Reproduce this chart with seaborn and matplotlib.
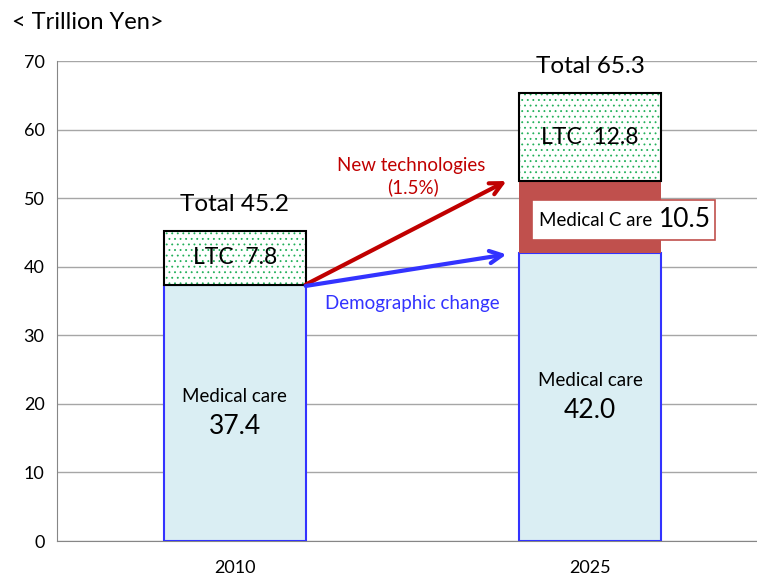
"""
Medical & LTC expenditure chart (2010 vs 2025)
"""

import matplotlib
matplotlib.use("Agg")
import matplotlib.pyplot as plt
import seaborn as sns
import pandas as pd
from matplotlib.patches import Rectangle

sns.set_style("white")
plt.rcParams['font.family'] = ['Lato', 'DejaVu Sans']
plt.rcParams['hatch.linewidth'] = 0.6
plt.rcParams['text.color'] = 'black'
plt.rcParams['xtick.color'] = 'black'
plt.rcParams['ytick.color'] = 'black'

# data
years = ["2010", "2025"]
medical_base = [37.4, 42.0]
new_tech = [0.0, 10.5]
ltc = [7.8, 12.8]
totals = [45.2, 65.3]
y_ticks = [0, 10, 20, 30, 40, 50, 60, 70]

df = pd.DataFrame({"year": years, "medical": medical_base,
                   "tech": new_tech, "ltc": ltc})
df["ltc_bottom"] = df["medical"] + df["tech"]

fig = plt.figure(figsize=(7.57, 5.79), dpi=100)
ax = fig.add_axes([0.0753, 0.0656, 0.9247, 0.829])

W = 0.40
# medical care (base)
sns.barplot(data=df, x="year", y="medical", ax=ax, width=W,
            color="#DAEEF3", edgecolor="#3333FF", linewidth=1.5,
            saturation=1, zorder=3)
# new technologies increase
sns.barplot(data=df, x="year", y="tech", bottom=df["medical"], ax=ax,
            width=W, color="#C0504D", edgecolor="none", linewidth=0,
            saturation=1, zorder=3)
# LTC dotted fill
sns.barplot(data=df, x="year", y="ltc", bottom=df["ltc_bottom"], ax=ax,
            width=W, color="white", edgecolor="#22B05A", hatch="...",
            linewidth=0, saturation=1, zorder=3)
# LTC outline
sns.barplot(data=df, x="year", y="ltc", bottom=df["ltc_bottom"], ax=ax,
            width=W, color="black", fill=False, edgecolor="black",
            linewidth=1.5, saturation=1, zorder=4)

ax.set_xlim(-0.5, 1.47)
ax.set_ylim(0, 70)
ax.set_yticks(y_ticks)
ax.yaxis.grid(True, color="#A6A6A6", linewidth=1, zorder=0)
ax.set_axisbelow(True)
for s in ["top", "right"]:
    ax.spines[s].set_visible(False)
ax.spines["left"].set_color("#868686")
ax.spines["bottom"].set_color("#868686")
ax.set_xlabel("")
ax.set_ylabel("")
ax.tick_params(axis="y", length=0, pad=9, labelsize=13)
ax.tick_params(axis="x", length=0, pad=14, labelsize=13)
ax.set_xticks([0.5], minor=True)
ax.tick_params(axis="x", which="minor", length=5, color="#868686")

# texts
fig.text(0.016, 0.962, "< Trillion Yen>", fontsize=17, va="center", ha="left")
for i, t in enumerate(totals):
    ax.text(i, t + 3.9, f"Total {t}", fontsize=17.5, ha="center", va="center")
    ax.text(i, df["ltc_bottom"][i] + ltc[i] / 2, f"LTC  {ltc[i]}",
            fontsize=16.5, ha="center", va="center", zorder=5)
    ax.text(i, medical_base[i] / 2 + 2.4, "Medical care", fontsize=13.5,
            ha="center", va="center", zorder=5)
    ax.text(i, medical_base[i] / 2 - 2.0, f"{medical_base[i]:.1f}",
            fontsize=19, ha="center", va="center", zorder=5)

# Medical Care increase label box
ax.add_patch(Rectangle((0.838, 43.9), 0.515, 5.8, facecolor="white",
                       edgecolor="#C0504D", linewidth=1.2, zorder=6))
ax.text(1.017, 46.7, "Medical C are", fontsize=13.5, ha="center",
        va="center", zorder=7)
ax.text(1.266, 46.9, f"{new_tech[1]}", fontsize=19, ha="center",
        va="center", zorder=7)

# arrows
ax.annotate("", xy=(0.765, 52.5), xytext=(0.2, 37.4),
            arrowprops=dict(arrowstyle="->", color="#C00000", lw=3,
                            mutation_scale=22, shrinkA=0, shrinkB=0),
            zorder=8)
ax.annotate("", xy=(0.765, 41.8), xytext=(0.2, 37.2),
            arrowprops=dict(arrowstyle="->", color="#3333FF", lw=3,
                            mutation_scale=22, shrinkA=0, shrinkB=0),
            zorder=8)
ax.text(0.497, 54.8, "New technologies", color="#C00000", fontsize=13.5,
        ha="center", va="center")
ax.text(0.502, 51.6, "(1.5%)", color="#C00000", fontsize=13.5,
        ha="center", va="center")
ax.text(0.50, 34.6, "Demographic change", color="#3333FF", fontsize=13.5,
        ha="center", va="center")

fig.savefig("out.png", dpi=100)
